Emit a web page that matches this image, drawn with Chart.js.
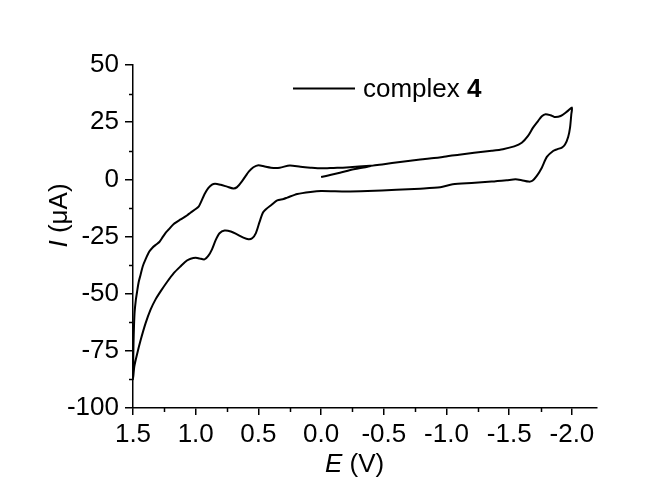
<!DOCTYPE html>
<html>
<head>
<meta charset="utf-8">
<title>Cyclic voltammogram – complex 4</title>
<script src="https://cdn.jsdelivr.net/npm/chart.js@4/dist/chart.umd.min.js"></script>
<style>
  html, body { margin: 0; padding: 0; background: #ffffff; }
  #wrap { width: 647px; height: 482px; position: relative; }
</style>
</head>
<body>
<div id="wrap"><canvas id="cv" width="647" height="482"></canvas></div>
<script>
// Sweep 1: start at 0.0 V, scan towards negative potentials
const sweep1Potential = [0.0, -0.08, -0.15, -0.26, -0.37, -0.41, -0.5, -0.63, -0.79, -0.9, -0.97, -1.03, -1.1, -1.22, -1.36, -1.45, -1.54, -1.6, -1.65, -1.69, -1.73, -1.76, -1.79, -1.83, -1.86, -1.91, -1.96, -2.0];
const sweep1Current   = [1.0, 2.0, 2.9, 4.4, 5.5, 6.0, 6.6, 7.6, 8.7, 9.3, 9.8, 10.3, 10.7, 11.6, 12.5, 13.2, 14.4, 16.0, 19.0, 22.6, 25.5, 27.6, 28.5, 28.0, 27.3, 27.7, 29.6, 31.4];

// Sweep 2: reverse from -2.0 V all the way to +1.5 V
const sweep2Potential = [-1.995, -1.985, -1.97, -1.945, -1.92, -1.885, -1.85, -1.8, -1.76, -1.72, -1.685, -1.655, -1.6, -1.55, -1.48, -1.36, -1.2, -1.05, -0.95, -0.79, -0.6, -0.37, -0.2, 0.0, 0.085, 0.19, 0.27, 0.3, 0.35, 0.39, 0.46, 0.49, 0.52, 0.55, 0.58, 0.62, 0.67, 0.72, 0.77, 0.81, 0.84, 0.87, 0.9, 0.93, 0.97, 1.0, 1.04, 1.07, 1.12, 1.175, 1.23, 1.28, 1.32, 1.36, 1.4, 1.44, 1.47, 1.49, 1.5];
const sweep2Current   = [28.4, 22.6, 18.5, 15.2, 13.9, 13.2, 12.4, 9.8, 5.1, 1.5, -0.6, -1.0, -0.4, 0.0, -0.4, -1.0, -1.6, -2.2, -3.5, -4.1, -4.6, -5.1, -5.3, -5.1, -5.5, -6.4, -8.0, -8.6, -9.2, -10.9, -14.2, -18.5, -23.5, -25.8, -26.2, -25.5, -24.1, -22.8, -22.4, -23.6, -26.5, -30.6, -33.5, -35.0, -34.6, -34.3, -34.7, -35.5, -38.0, -41.0, -45.0, -49.0, -52.5, -57.0, -63.0, -70.5, -77.0, -82.0, -87.5];

// Sweep 3: back from +1.5 V towards the starting region
const sweep3Potential = [1.499, 1.496, 1.492, 1.487, 1.478, 1.467, 1.455, 1.44, 1.422, 1.4, 1.37, 1.345, 1.315, 1.29, 1.265, 1.24, 1.215, 1.175, 1.12, 1.07, 1.042, 1.0, 0.975, 0.96, 0.93, 0.9, 0.87, 0.845, 0.8, 0.75, 0.7, 0.67, 0.63, 0.6, 0.577, 0.54, 0.5, 0.45, 0.4, 0.33, 0.25, 0.165, 0.085, 0.0, -0.1, -0.2, -0.3, -0.42];
const sweep3Current   = [-82, -72, -64, -58, -53, -49, -45, -41.8, -38, -35, -31.6, -29.9, -28.5, -27.4, -25.4, -23.4, -21.9, -19.5, -17.5, -15.8, -14.6, -13.0, -11.8, -10.2, -6.5, -3.8, -2.3, -1.9, -2.4, -3.2, -4.0, -3.4, -0.8, 1.6, 3.4, 5.3, 6.2, 5.6, 5.1, 5.1, 6.1, 5.5, 5.1, 4.8, 5.0, 5.2, 5.6, 6.1];

// Axis ticks
const xMajorTicks = [1.5, 1.0, 0.5, 0.0, -0.5, -1.0, -1.5, -2.0];
const xMinorTicks = [1.25, 0.75, 0.25, -0.25, -0.75, -1.25, -1.75];
const yMajorTicks = [-100, -75, -50, -25, 0, 25, 50];
const yMinorTicks = [-87.5, -62.5, -37.5, -12.5, 12.5, 37.5];

const seriesName = 'complex ';
const seriesNumber = '4';

const FONT = "'Liberation Sans', Arial, Helvetica, sans-serif";

const potentials = sweep1Potential.concat(sweep2Potential, sweep3Potential);
const currents = sweep1Current.concat(sweep2Current, sweep3Current);
const trace = potentials.map((e, i) => ({ x: e, y: currents[i] }));

function drawRuns(ctx, runs, x, y) {
  let cx = x;
  runs.forEach(r => {
    ctx.font = r.font;
    ctx.fillText(r.text, cx, y);
    cx += ctx.measureText(r.text).width;
  });
  return cx - x;
}
function runsWidth(ctx, runs) {
  let w = 0;
  runs.forEach(r => { ctx.font = r.font; w += ctx.measureText(r.text).width; });
  return w;
}

// Minor ticks, axis titles and the series key
const decorations = {
  id: 'decorations',
  afterDraw(chart) {
    const { ctx } = chart;
    const xs = chart.scales.x, ys = chart.scales.y;
    ctx.save();
    ctx.strokeStyle = '#000';
    ctx.lineWidth = 1.5;
    xMinorTicks.forEach(v => {
      const px = Math.round(xs.getPixelForValue(v)) + 0.5;
      ctx.beginPath(); ctx.moveTo(px, ys.bottom); ctx.lineTo(px, ys.bottom + 4); ctx.stroke();
    });
    yMinorTicks.forEach(v => {
      const py = Math.round(ys.getPixelForValue(v)) + 0.5;
      ctx.beginPath(); ctx.moveTo(xs.left, py); ctx.lineTo(xs.left - 4, py); ctx.stroke();
    });

    ctx.fillStyle = '#000';
    ctx.textBaseline = 'alphabetic';
    ctx.textAlign = 'left';

    // x title: E (V)
    drawRuns(ctx, [
      { text: 'E', font: `italic 26px ${FONT}` },
      { text: ' (V)', font: `26px ${FONT}` }
    ], 325, 472);

    // y title: I (μA), rotated
    const yRuns = [
      { text: 'I', font: `italic 26px ${FONT}` },
      { text: ' (μA)', font: `26px ${FONT}` }
    ];
    ctx.save();
    ctx.translate(67, 215.5);
    ctx.rotate(-Math.PI / 2);
    drawRuns(ctx, yRuns, -runsWidth(ctx, yRuns) / 2, 0);
    ctx.restore();

    // series key
    ctx.lineWidth = 2;
    ctx.beginPath(); ctx.moveTo(293, 88.5); ctx.lineTo(355, 88.5); ctx.stroke();
    drawRuns(ctx, [
      { text: seriesName, font: `26px ${FONT}` },
      { text: seriesNumber, font: `bold 26px ${FONT}` }
    ], 363, 97);
    ctx.restore();
  }
};

new Chart(document.getElementById('cv'), {
  type: 'scatter',
  data: {
    datasets: [{
      label: seriesName + seriesNumber,
      data: trace,
      showLine: true,
      borderColor: '#000',
      borderWidth: 2,
      pointRadius: 0,
      tension: 0.25,
      fill: false
    }]
  },
  options: {
    responsive: false,
    animation: false,
    devicePixelRatio: 1,
    layout: { padding: { top: 65, right: 50, bottom: 0, left: 0 } },
    plugins: { legend: { display: false }, tooltip: { enabled: false } },
    scales: {
      x: {
        type: 'linear',
        reverse: true,
        min: -2.2,
        max: 1.5,
        afterBuildTicks: s => { s.ticks = xMajorTicks.map(v => ({ value: v })); },
        afterFit: s => { s.height = 74; },
        border: { display: true, color: '#000', width: 1.5 },
        grid: { drawOnChartArea: false, drawTicks: true, tickLength: 7, color: '#000', lineWidth: 1.5 },
        ticks: {
          autoSkip: false, maxRotation: 0, padding: 4, color: '#000',
          font: { family: FONT, size: 26 },
          callback: v => v.toFixed(1)
        }
      },
      y: {
        type: 'linear',
        min: -100,
        max: 50,
        afterBuildTicks: s => { s.ticks = yMajorTicks.map(v => ({ value: v })); },
        afterFit: s => { s.width = 133; },
        border: { display: true, color: '#000', width: 1.5 },
        grid: { drawOnChartArea: false, drawTicks: true, tickLength: 8, color: '#000', lineWidth: 1.5 },
        ticks: {
          autoSkip: false, padding: 6, color: '#000',
          font: { family: FONT, size: 26 },
          callback: v => String(v)
        }
      }
    }
  },
  plugins: [decorations]
});
</script>
</body>
</html>
